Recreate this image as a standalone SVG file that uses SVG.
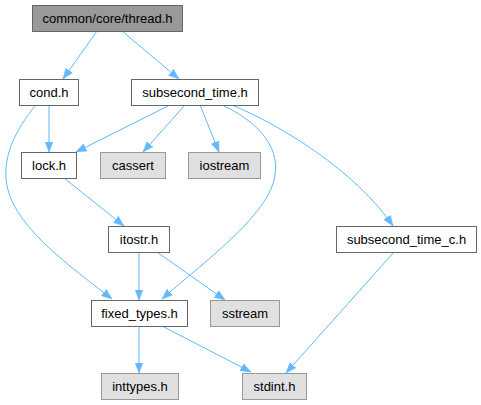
<svg xmlns="http://www.w3.org/2000/svg" width="481" height="405" viewBox="0 0 481 405">
<defs>
<marker id="ah" markerUnits="userSpaceOnUse" markerWidth="11" markerHeight="9" viewBox="0 0 11 9" refX="10.5" refY="4.5" orient="auto">
<path d="M0,0.5 L10.5,4.5 L0,8.5 z" fill="#63b8ff" stroke="#63b8ff" stroke-width="0.5"/>
</marker>
<style>
.n rect{fill:#ffffff;stroke:#666666;stroke-width:1}
.g rect{fill:#e0e0e0;stroke:#999999;stroke-width:1}
.r rect{fill:#999999;stroke:#666666;stroke-width:1}
text{font-family:"Liberation Sans",Arial,sans-serif;font-size:13px;fill:#000;text-anchor:middle}
.e path{fill:none;stroke:#63b8ff;stroke-width:1;marker-end:url(#ah)}
</style>
</defs>
<rect width="481" height="405" fill="#ffffff"/>
<g class="e" id="edges">
<path d="M97,31 L63,79"/>
<path d="M122,31 L179,79"/>
<path d="M49,105 L49,152"/>
<path d="M36,105 C15,130 0,160 8,190 C18,230 75,270 112,299"/>
<path d="M170,105 L76,152"/>
<path d="M185,105 L143,152"/>
<path d="M200,105 L219,152"/>
<path d="M222,105 C255,120 280,145 275,175 C270,215 200,265 162,299"/>
<path d="M232,105 C280,125 355,170 393,226"/>
<path d="M64,178 L124,226"/>
<path d="M139,252 L139,300"/>
<path d="M157,252 L225,300"/>
<path d="M394,252 L286,373"/>
<path d="M139,326 L139,373"/>
<path d="M162,326 L251,372"/>
</g>
<g id="thread" class="r"><rect x="32.5" y="5.5" width="150" height="26"/><text x="107.5" y="23">common/core/thread.h</text></g>
<g id="cond" class="n"><rect x="19.5" y="79.5" width="59" height="26"/><text x="49" y="97">cond.h</text></g>
<g id="subsecond_time" class="n"><rect x="131.5" y="79.5" width="127" height="26"/><text x="195" y="97">subsecond_time.h</text></g>
<g id="lock" class="n"><rect x="21.5" y="152.5" width="55" height="26"/><text x="49" y="170">lock.h</text></g>
<g id="cassert" class="g"><rect x="100.5" y="152.5" width="65" height="26"/><text x="133" y="170">cassert</text></g>
<g id="iostream" class="g"><rect x="188.5" y="152.5" width="72" height="26"/><text x="224.5" y="170">iostream</text></g>
<g id="itostr" class="n"><rect x="108.5" y="226.5" width="61" height="26"/><text x="139" y="244">itostr.h</text></g>
<g id="subsecond_time_c" class="n"><rect x="336.5" y="226.5" width="140" height="26"/><text x="406.5" y="244">subsecond_time_c.h</text></g>
<g id="fixed_types" class="n"><rect x="91.5" y="300.5" width="96" height="26"/><text x="139.5" y="318">fixed_types.h</text></g>
<g id="sstream" class="g"><rect x="210.5" y="300.5" width="69" height="26"/><text x="245" y="318">sstream</text></g>
<g id="inttypes" class="g"><rect x="101.5" y="373.5" width="77" height="26"/><text x="140" y="391">inttypes.h</text></g>
<g id="stdint" class="g"><rect x="242.5" y="373.5" width="64" height="26"/><text x="274.5" y="391">stdint.h</text></g>
</svg>
